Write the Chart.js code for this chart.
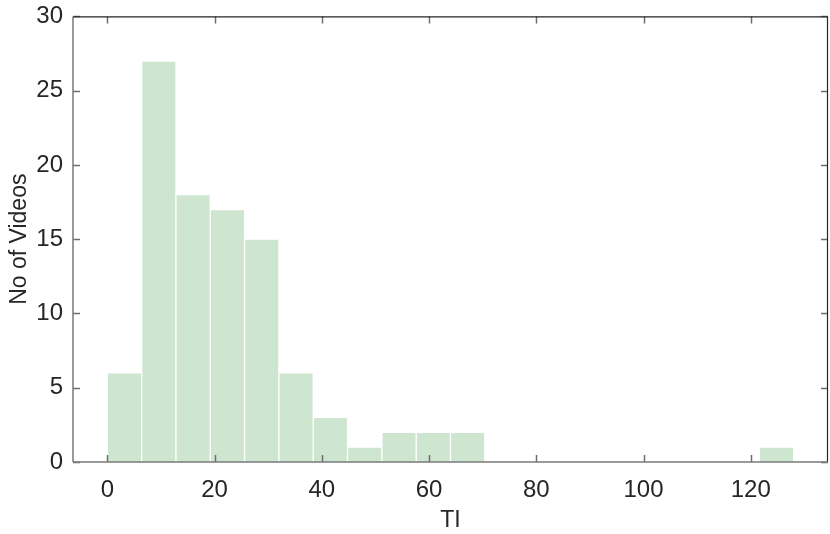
<!DOCTYPE html>
<html>
<head>
<meta charset="utf-8">
<script src="https://cdn.jsdelivr.net/npm/chart.js@4/dist/chart.umd.min.js"></script>
<style>
  html, body { margin: 0; padding: 0; background: #fff; }
  #wrap { width: 830px; height: 534px; }
</style>
</head>
<body>
<div id="wrap"><canvas id="myChart"></canvas></div>
<script>
// bin centres (bin width 6.4)
const binCenters = [3.2, 9.6, 16.0, 22.4, 28.8, 35.2, 41.6, 48.0, 54.4, 60.8,
                    67.2, 73.6, 80.0, 86.4, 92.8, 99.2, 105.6, 112.0, 118.4, 124.8];
const videoCounts = [6, 27, 18, 17, 15, 6, 3, 1, 2, 2,
                     2, 0, 0, 0, 0, 0, 0, 0, 0, 1];
const xTicks = [0, 20, 40, 60, 80, 100, 120];
const yTicks = [0, 5, 10, 15, 20, 25, 30];

const fontFamily = '"Liberation Sans", Arial, Helvetica, sans-serif';

// MATLAB-style box with inward ticks
const boxPlugin = {
    id: 'box',
    afterDraw(chart) {
        const { ctx, chartArea: a, scales: { x, y } } = chart;
        const len = 7;
        ctx.save();
        ctx.lineWidth = 1.5;
        ctx.strokeStyle = '#6e6e6e';
        xTicks.forEach(v => {
            const px = Math.round(x.getPixelForValue(v)) + 0.5;
            ctx.beginPath();
            ctx.moveTo(px, a.bottom); ctx.lineTo(px, a.bottom - len);
            ctx.moveTo(px, a.top); ctx.lineTo(px, a.top + len);
            ctx.stroke();
        });
        yTicks.forEach(v => {
            const py = Math.round(y.getPixelForValue(v)) + 0.5;
            ctx.beginPath();
            ctx.moveTo(a.left, py); ctx.lineTo(a.left + len, py);
            ctx.moveTo(a.right, py); ctx.lineTo(a.right - len, py);
            ctx.stroke();
        });
        ctx.lineWidth = 1.2;
        ctx.strokeStyle = '#262626';
        ctx.beginPath();
        ctx.moveTo(a.left, a.top + 0.5); ctx.lineTo(a.right, a.top + 0.5);
        ctx.moveTo(a.right - 0.5, a.top); ctx.lineTo(a.right - 0.5, a.bottom);
        ctx.stroke();
        ctx.strokeStyle = '#7a7a7a';
        ctx.lineWidth = 1.5;
        ctx.beginPath();
        ctx.moveTo(a.left, a.bottom); ctx.lineTo(a.right, a.bottom);
        ctx.moveTo(a.left, a.top); ctx.lineTo(a.left, a.bottom);
        ctx.stroke();
        ctx.restore();
    }
};

const ctx = document.getElementById('myChart').getContext('2d');
new Chart(ctx, {
    type: 'bar',
    data: {
        datasets: [{
            label: 'TI',
            data: binCenters.map((c, i) => ({ x: c, y: videoCounts[i] })),
            backgroundColor: '#cee6d0',
            borderColor: 'rgba(255,255,255,0.85)',
            borderWidth: 1,
            borderSkipped: 'bottom',
            barPercentage: 1,
            categoryPercentage: 1
        }]
    },
    plugins: [boxPlugin],
    options: {
        responsive: true,
        maintainAspectRatio: false,
        animation: false,
        layout: { padding: { top: 4, right: 2, left: 0, bottom: 0 } },
        plugins: { legend: { display: false }, tooltip: { enabled: false } },
        scales: {
            x: {
                type: 'linear',
                offset: false,
                min: -6.4,
                max: 134.4,
                afterBuildTicks: s => { s.ticks = xTicks.map(v => ({ value: v })); },
                afterFit: s => { s.height = 72; },
                grid: { display: false },
                border: { display: false },
                ticks: {
                    color: '#262626',
                    font: { family: fontFamily, size: 24 },
                    padding: 6,
                    maxRotation: 0
                },
                title: {
                    display: true,
                    text: 'TI',
                    color: '#262626',
                    font: { family: fontFamily, size: 23 },
                    padding: { top: 0, bottom: 0 }
                }
            },
            y: {
                min: 0,
                max: 30,
                afterBuildTicks: s => { s.ticks = yTicks.map(v => ({ value: v })); },
                afterFit: s => { s.width = 73; },
                grid: { display: false },
                border: { display: false },
                ticks: {
                    color: '#262626',
                    font: { family: fontFamily, size: 24 },
                    padding: 2
                },
                title: {
                    display: true,
                    text: 'No of Videos',
                    color: '#262626',
                    font: { family: fontFamily, size: 23 },
                    padding: { top: 6, bottom: 0 }
                }
            }
        }
    }
});
</script>
</body>
</html>
